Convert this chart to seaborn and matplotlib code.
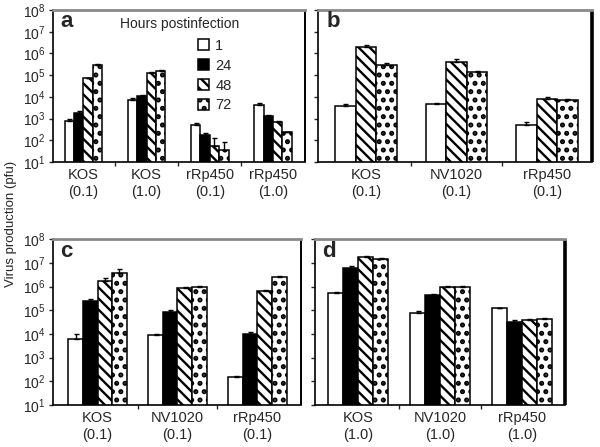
import matplotlib
matplotlib.use("Agg")
import matplotlib.pyplot as plt
import matplotlib.ticker as mticker
import pandas as pd
import seaborn as sns

# hours postinfection (hue levels)
hours_all = ["1", "24", "48", "72"]
hours_b = ["1", "48", "72"]

# panel a
groups_a = ["KOS\n(0.1)", "KOS\n(1.0)", "rRp450\n(0.1)", "rRp450\n(1.0)"]
vals_a = [[740, 1900, 72000, 290000],
          [6800, 11500, 130000, 160000],
          [520, 180, 56, 37],
          [4200, 1350, 690, 230]]
err_a = [[200, 250, 5000, 40000],
         [2500, 1000, 10000, 20000],
         [100, 40, 70, 43],
         [800, 150, 50, 20]]

# panel b (no 24 h point)
groups_b = ["KOS\n(0.1)", "NV1020\n(0.1)", "rRp450\n(0.1)"]
vals_b = [[3900, 2000000, 290000],
          [4600, 420000, 140000],
          [520, 8100, 6800]]
err_b = [[1000, 400000, 60000],
         [800, 120000, 20000],
         [200, 1500, 800]]

# panel c
groups_c = ["KOS\n(0.1)", "NV1020\n(0.1)", "rRp450\n(0.1)"]
vals_c = [[5900, 250000, 1700000, 3900000],
          [9100, 88000, 880000, 930000],
          [145, 10000, 620000, 2600000]]
err_c = [[4000, 50000, 500000, 1800000],
         [500, 10000, 50000, 100000],
         [30, 1500, 80000, 300000]]

# panel d
groups_d = ["KOS\n(1.0)", "NV1020\n(1.0)", "rRp450\n(1.0)"]
vals_d = [[520000, 6300000, 17000000, 14000000],
          [80000, 420000, 970000, 970000],
          [120000, 33000, 39000, 43000]]
err_d = [[60000, 800000, 2000000, 1500000],
         [10000, 50000, 50000, 50000],
         [10000, 5000, 4000, 3000]]

styles = {
    "1": dict(facecolor="white", hatch=None, hlw=1.6),
    "24": dict(facecolor="black", hatch=None, hlw=1.6),
    "48": dict(facecolor="white", hatch="\\\\\\", hlw=1.7),
    "72": dict(facecolor="white", hatch="..", hlw=2.4),
}

sns.set_style("ticks")
plt.rcParams["font.family"] = ["Liberation Sans", "DejaVu Sans"]
plt.rcParams["hatch.linewidth"] = 1.7
plt.rcParams["mathtext.default"] = "regular"


def long_table(groups, hours, vals):
    rows = []
    for g, vs in zip(groups, vals):
        for h, v in zip(hours, vs):
            rows.append({"group": g, "hours": h, "value": v})
    return pd.DataFrame(rows)


def style_bar(bar, h):
    bar.set_facecolor(styles[h]["facecolor"])
    bar.set_hatch(styles[h]["hatch"])
    bar.set_edgecolor("black")
    if hasattr(bar, "set_hatch_linewidth"):
        bar.set_hatch_linewidth(styles[h]["hlw"])
    else:
        bar._hatch_linewidth = styles[h]["hlw"]


def draw_panel(ax, groups, hours, vals, errs, width, xlim, letter, show_ylabels, thick_right):
    df = long_table(groups, hours, vals)
    sns.barplot(data=df, x="group", y="value", hue="hours", order=groups,
                hue_order=hours, width=width, errorbar=None, ax=ax,
                log_scale=(False, True), legend=False, edgecolor="black",
                linewidth=1.1, saturation=1)
    for h, cont in zip(hours, ax.containers):
        for gi, bar in enumerate(cont.patches):
            style_bar(bar, h)
            cx = bar.get_x() + bar.get_width() / 2
            top = bar.get_y() + bar.get_height()
            e = errs[gi][hours.index(h)]
            ax.errorbar([cx], [top], yerr=[[0], [e]], fmt="none",
                        ecolor="black", elinewidth=1, capsize=1.8, capthick=1)
    ax.set_yscale("log")
    ax.set_ylim(10, 1e8)
    ax.set_xlim(*xlim)
    ax.yaxis.set_minor_locator(mticker.NullLocator())
    ax.set_yticks([10 ** k for k in range(1, 9)])
    if show_ylabels:
        ax.set_yticklabels([r"$10^{%d}$" % k for k in range(1, 9)])
    else:
        ax.set_yticklabels([])
    ax.tick_params(axis="y", labelsize=10, length=3, width=1, pad=2)
    ax.tick_params(axis="x", which="major", length=0, labelsize=10.5, pad=4)
    ax.set_xticks(range(len(groups)))
    ax.set_xticklabels(groups, linespacing=1.35)
    ax.set_xticks([i + 0.5 for i in range(len(groups) - 1)], minor=True)
    ax.tick_params(axis="x", which="minor", length=3, width=1, direction="out")
    ax.set_xlabel("")
    ax.set_ylabel("")
    for s in ["left", "bottom"]:
        ax.spines[s].set_linewidth(1.2)
        ax.spines[s].set_color("black")
    ax.spines["top"].set_visible(True)
    ax.spines["right"].set_visible(True)
    ax.spines["top"].set_color("#8a8a8a")
    ax.spines["top"].set_linewidth(2.0)
    ax.spines["right"].set_color("black")
    ax.spines["right"].set_linewidth(2.6 if thick_right else 1.4)
    ax.spines["right"].set_capstyle("butt")
    ax.text(0.03, 0.925, letter, transform=ax.transAxes, fontsize=16,
            fontweight="bold", ha="left", va="center")


fig = plt.figure(figsize=(6, 4.47), dpi=100)
ax_a = fig.add_axes([0.088, 0.6376, 0.420, 0.340])
ax_b = fig.add_axes([0.530, 0.6376, 0.4567, 0.340])
ax_c = fig.add_axes([0.088, 0.094, 0.413, 0.371])
ax_d = fig.add_axes([0.525, 0.094, 0.4167, 0.371])

draw_panel(ax_a, groups_a, hours_all, vals_a, err_a, 0.59, (-0.48, 3.5), "a", True, False)
draw_panel(ax_b, groups_b, hours_b, vals_b, err_b, 0.68, (-0.53, 2.5), "b", False, True)
draw_panel(ax_c, groups_c, hours_all, vals_c, err_c, 0.73, (-0.56, 2.54), "c", True, False)
draw_panel(ax_d, groups_d, hours_all, vals_d, err_d, 0.73, (-0.53, 2.53), "d", False, True)

# legend in panel a
handles = [c.patches[0] for c in ax_a.containers[:4]]
ax_a.text(0.266, 0.905, "Hours postinfection", transform=ax_a.transAxes,
          fontsize=10, ha="left", va="center")
leg = ax_a.legend(handles, hours_all, loc="upper left", bbox_to_anchor=(0.575, 0.81),
                  frameon=False, borderpad=0, borderaxespad=0, handlelength=0.8,
                  handleheight=0.8, handletextpad=0.4, labelspacing=0.4, fontsize=10.5)
for h, p in zip(hours_all, leg.get_patches()):
    style_bar(p, h)

fig.text(0.018, 0.5, "Virus production (pfu)", rotation=90, fontsize=9.5,
         ha="center", va="center")

fig.savefig("out.png", dpi=100)
